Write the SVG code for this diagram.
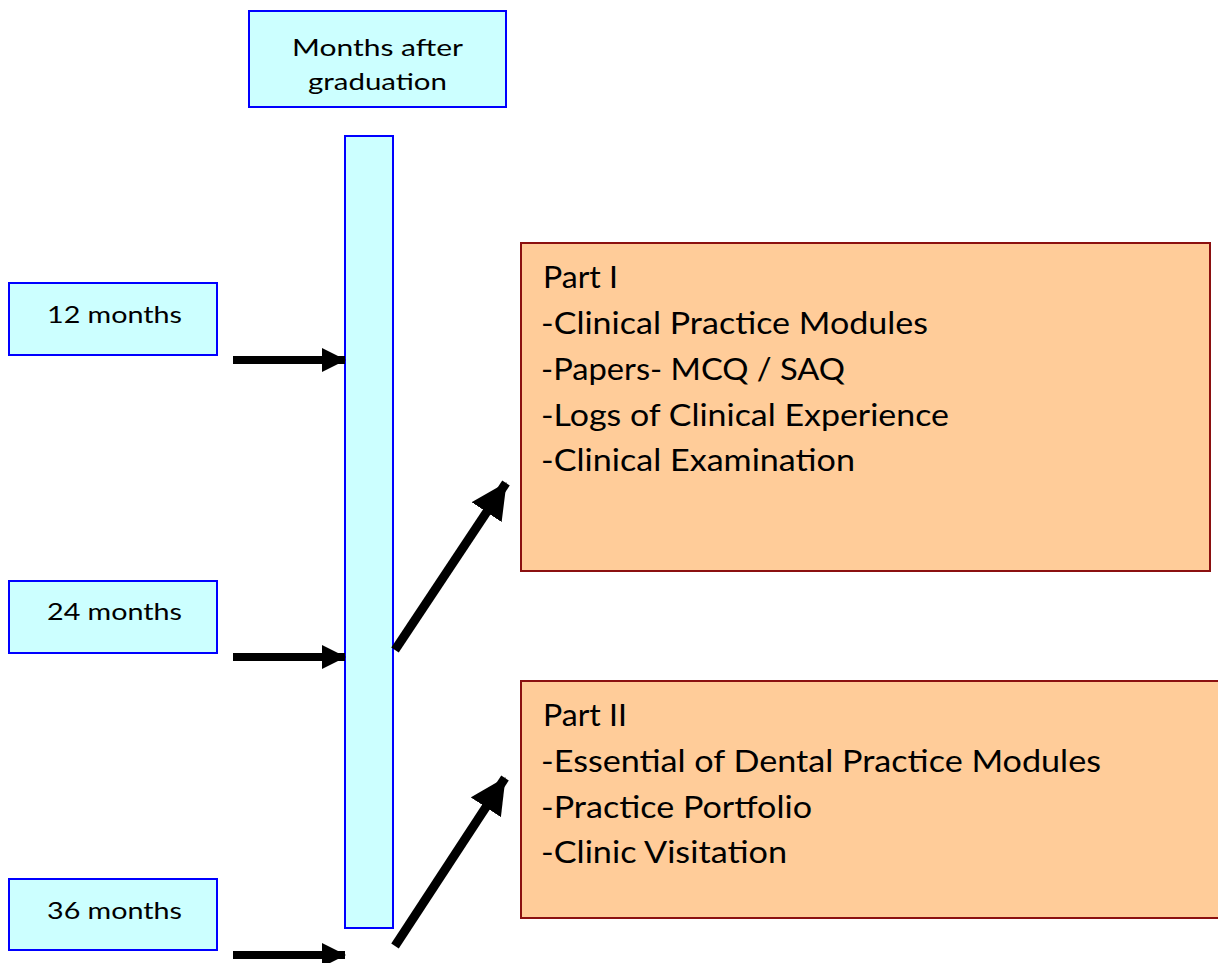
<svg xmlns="http://www.w3.org/2000/svg" width="1218" height="963" viewBox="0 0 1218 963">
<defs>
<style>
.blue{fill:#CCFFFF;stroke:#0000FF;stroke-width:2}
.orange{fill:#FFCC99;stroke:#8B1010;stroke-width:2}
.t{font-family:Lato,"Open Sans","Liberation Sans",sans-serif;fill:#000}
.s{font-size:24px}
.l{font-size:30px}
.h{stroke:#000;stroke-width:8;fill:none}
.d{stroke:#000;stroke-width:9;fill:none}
</style>
<marker id="ah" markerUnits="userSpaceOnUse" markerWidth="24" markerHeight="24" refX="23" refY="12" orient="auto" viewBox="0 0 24 24">
<path d="M0,0 L24,12 L0,24 Z" fill="#000"/>
</marker>
<marker id="ad" markerUnits="userSpaceOnUse" markerWidth="36" markerHeight="36" refX="35" refY="18" orient="auto" viewBox="0 0 36 36">
<path d="M0,0 L36,18 L0,36 Z" fill="#000"/>
</marker>
</defs>
<rect width="1218" height="963" fill="#fff"/>
<g id="header">
<rect class="blue" x="249" y="11" width="257" height="96"/>
<text class="t s" x="377.5" y="56" text-anchor="middle" textLength="171" lengthAdjust="spacingAndGlyphs">Months after</text>
<text class="t s" x="377.5" y="90" text-anchor="middle" textLength="139" lengthAdjust="spacingAndGlyphs">graduation</text>
</g>
<g id="timeline">
<rect class="blue" x="345" y="136" width="48" height="792"/>
</g>
<g id="m12">
<rect class="blue" x="9" y="283" width="208" height="72"/>
<text class="t s" x="114.5" y="323" text-anchor="middle" textLength="135" lengthAdjust="spacingAndGlyphs">12 months</text>
</g>
<g id="m24">
<rect class="blue" x="9" y="581" width="208" height="72"/>
<text class="t s" x="114.5" y="620" text-anchor="middle" textLength="135" lengthAdjust="spacingAndGlyphs">24 months</text>
</g>
<g id="m36">
<rect class="blue" x="9" y="879" width="208" height="71"/>
<text class="t s" x="114.5" y="919" text-anchor="middle" textLength="135" lengthAdjust="spacingAndGlyphs">36 months</text>
</g>
<g id="part1">
<rect class="orange" x="521" y="243" width="689" height="328"/>
<text class="t l" x="543" y="288" textLength="75" lengthAdjust="spacingAndGlyphs">Part I</text>
<text class="t l" x="541" y="334" textLength="387" lengthAdjust="spacingAndGlyphs">-Clinical Practice Modules</text>
<text class="t l" x="541" y="380" textLength="304" lengthAdjust="spacingAndGlyphs">-Papers- MCQ / SAQ</text>
<text class="t l" x="541" y="426" textLength="408" lengthAdjust="spacingAndGlyphs">-Logs of Clinical Experience</text>
<text class="t l" x="541" y="471" textLength="314" lengthAdjust="spacingAndGlyphs">-Clinical Examination</text>
</g>
<g id="part2">
<rect class="orange" x="521" y="681" width="700" height="237"/>
<text class="t l" x="543" y="726" textLength="84" lengthAdjust="spacingAndGlyphs">Part II</text>
<text class="t l" x="541" y="772" textLength="560" lengthAdjust="spacingAndGlyphs">-Essential of Dental Practice Modules</text>
<text class="t l" x="541" y="818" textLength="271" lengthAdjust="spacingAndGlyphs">-Practice Portfolio</text>
<text class="t l" x="541" y="863" textLength="246" lengthAdjust="spacingAndGlyphs">-Clinic Visitation</text>
</g>
<g id="connectors">
<line class="h" x1="233" y1="360" x2="345" y2="360" marker-end="url(#ah)"/>
<line class="h" x1="233" y1="657" x2="345" y2="657" marker-end="url(#ah)"/>
<line class="h" x1="233" y1="955" x2="345" y2="955" marker-end="url(#ah)"/>
<line class="d" x1="395" y1="650" x2="506" y2="483" marker-end="url(#ad)"/>
<line class="d" x1="395" y1="946" x2="505" y2="778" marker-end="url(#ad)"/>
</g>
</svg>
